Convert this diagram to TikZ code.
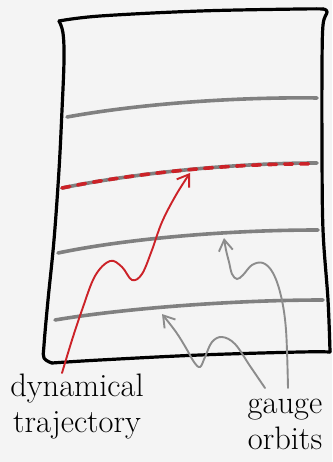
\documentclass[tikz,border=0pt]{standalone}
\usetikzlibrary{arrows.meta}
\definecolor{bg}{RGB}{244,244,244}
\definecolor{orbit}{RGB}{128,128,128}
\definecolor{traj}{RGB}{204,34,40}
\definecolor{arrowgray}{RGB}{140,140,140}
\tikzset{
  frame/.style={line width=3.2pt, line cap=round, line join=round, black},
  orbitline/.style={line width=3.6pt, line cap=round, orbit},
  trajdash/.style={line width=3.6pt, traj, dash pattern=on 8pt off 8pt, line cap=round},
  trajline/.style={line width=1.9pt, traj, line cap=round, -{Straight Barb[length=11pt,width=15pt,line width=1.9pt]}},
  pointer/.style={line width=1.9pt, arrowgray, line cap=round, -{Straight Barb[length=11pt,width=14pt,line width=1.9pt]}},
  label/.style={font=\fontsize{32.5}{35.5}\selectfont, align=center, inner sep=0pt}
}
\begin{document}
\begin{tikzpicture}[x=1pt,y=-1pt]
\fill[bg] (0,0) rectangle (332,462);
\useasboundingbox (0,0) rectangle (332,462);
% frame
\draw[frame] plot[smooth, tension=0.6] coordinates {(59,21) (63,33) (64,60) (62,110) (59,170) (54,240) (48,300) (44,345) (44,358) (52,363)};
\draw[frame] plot[smooth, tension=0.6] coordinates {(52,363) (100,360) (200,355) (300,352) (330,352)};
\draw[frame] plot[smooth, tension=0.6] coordinates {(330,352) (328,300) (323,230) (322,150) (322,67) (323,25) (327,12) (323,9)};
\draw[frame] plot[smooth, tension=0.6] coordinates {(323,9) (300,9) (200,11) (100,16) (59,21)};
% orbits
\draw[orbitline] (67,117) .. controls (150,102) and (250,97) .. (317,98);
\draw[orbitline] (62,188) .. controls (140,172) and (240,163) .. (317,163);
\draw[orbitline] (58,253) .. controls (120,240) and (220,230) .. (318,230);
\draw[orbitline] (55,320) .. controls (120,309) and (230,300) .. (323,300);
% dashed trajectory on orbit
\draw[trajdash] (62,188) .. controls (140,172) and (240,163) .. (316,164);
% labels
\node[label, anchor=north] (dyn) at (77,374) {dynamical\\trajectory};
\node[label, anchor=north] (gauge) at (285,399) {gauge\\orbits};
\coordinate (t0) at (62,373);
\coordinate (g1) at (288,388);
\coordinate (g2) at (265,388);
% trajectory
\draw[trajline] plot[smooth, tension=0.6] coordinates {(t0) (72,340) (82,310) (95,276) (110,261) (122,267) (132,280) (142,274) (152,250) (162,222) (176,195) (190,173)};
% gauge arrows
\draw[pointer] plot[smooth, tension=0.6] coordinates {(g1) (286,330) (281,296) (273,273) (263,263) (252,265) (243,275) (237,279) (232,274) (229,262) (226,250) (224,238)};
\draw[pointer] plot[smooth, tension=0.6] coordinates {(g2) (250,366) (235,344) (222,337) (212,342) (205,357) (200,367) (194,362) (186,348) (176,332) (162,314)};
\end{tikzpicture}
\end{document}
